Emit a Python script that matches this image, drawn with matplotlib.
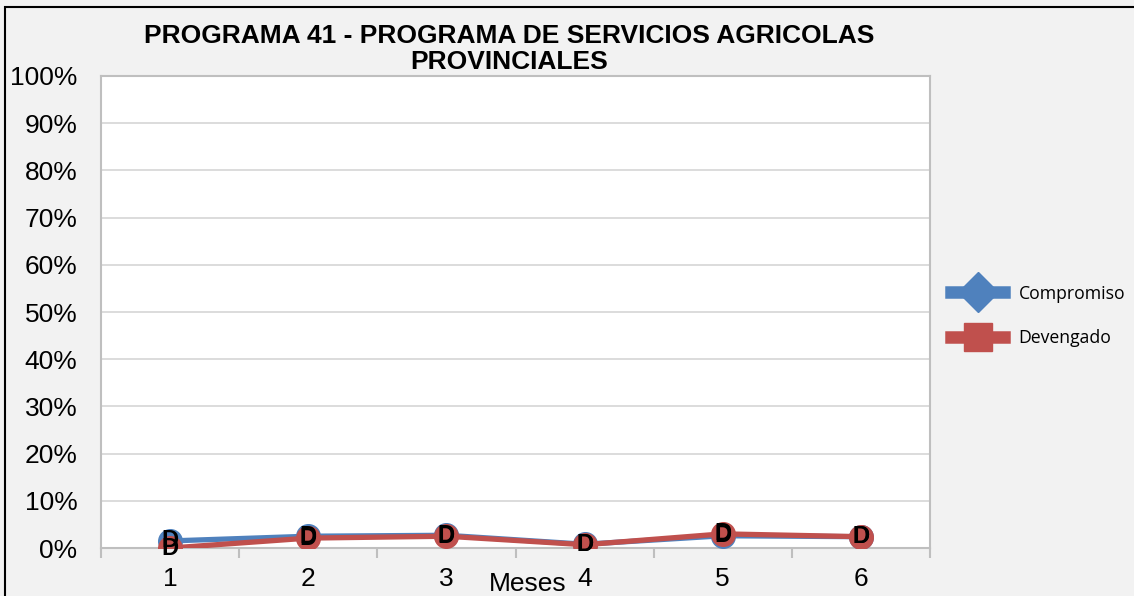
import numpy as np
import matplotlib.pyplot as plt
from matplotlib.lines import Line2D
from matplotlib.patches import Rectangle

meses = [1, 2, 3, 4, 5, 6]
compromiso = [0.015, 0.025, 0.027, 0.008, 0.026, 0.024]
devengado = [0.000, 0.021, 0.025, 0.007, 0.030, 0.024]
etiqueta = 'D'

plt.rcParams['font.family'] = ['Liberation Sans', 'DejaVu Sans']

fig = plt.figure(figsize=(11.34, 5.96), dpi=100, facecolor='#f2f2f2')
ax = fig.add_axes([0.0891, 0.0805, 0.7310, 0.7920])
ax.set_facecolor('white')

blue = '#4f81bd'
red = '#c0504d'

ax.plot(meses, compromiso, color=blue, lw=3.8, marker='o', ms=17, zorder=3)
ax.plot(meses, devengado, color=red, lw=3.8, marker='o', ms=17, zorder=4)
for x, y in zip(meses, compromiso):
    ax.text(x, y, etiqueta, ha='center', va='center', fontsize=17, fontweight='heavy', zorder=5)
for x, y in zip(meses, devengado):
    ax.text(x, y, etiqueta, ha='center', va='center', fontsize=17, fontweight='heavy', zorder=6)

ax.set_xlim(0.5, 6.5)
ax.set_ylim(0, 1)
ax.set_yticks(np.arange(0, 1.01, 0.1))
ax.set_yticklabels([f'{int(round(v * 100))}%' for v in np.arange(0, 1.01, 0.1)], fontsize=19)
ax.set_xticks(meses)
ax.set_xticklabels([str(m) for m in meses], fontsize=19)
ax.set_xticks(np.arange(0.5, 6.6, 1), minor=True)
ax.tick_params(axis='x', which='major', length=0, pad=14)
ax.tick_params(axis='x', which='minor', length=7, color='#bfbfbf', width=1.5)
ax.tick_params(axis='y', length=0, pad=17)
ax.grid(axis='y', color='#d9d9d9', lw=1.3)
ax.set_axisbelow(True)
for s in ax.spines.values():
    s.set_color('#bfbfbf')
    s.set_linewidth(1.5)

fig.text(0.449, 0.918, 'PROGRAMA 41 - PROGRAMA DE SERVICIOS AGRICOLAS\nPROVINCIALES',
         ha='center', va='center', fontsize=19, fontweight='bold', linespacing=1.1)
fig.text(0.465, 0.020, 'Meses', ha='center', va='center', fontsize=19)

handles = [Line2D([], [], color=blue, lw=9, marker='D', ms=20),
           Line2D([], [], color=red, lw=9, marker='s', ms=20)]
fig.legend(handles, ['Compromiso', 'Devengado'], loc='center left',
           bbox_to_anchor=(0.825, 0.47), frameon=False,
           prop={'family': 'Open Sans', 'size': 12.7}, handlelength=3.0,
           labelspacing=1.5, handletextpad=0.8)

fig.patches.append(Rectangle((5 / 1134, -0.1), 1.2, (596 - 7) / 596 + 0.1,
                             transform=fig.transFigure, fill=False,
                             edgecolor='black', lw=1.5))

fig.savefig('out.png', dpi=100, facecolor=fig.get_facecolor())
